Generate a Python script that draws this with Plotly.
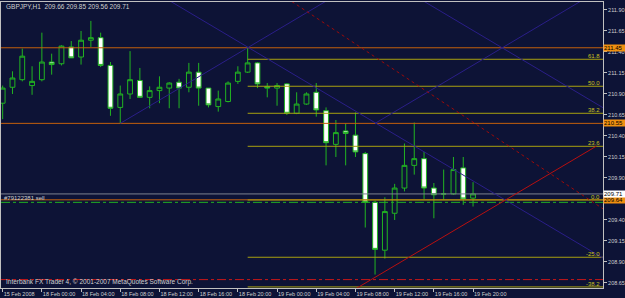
import plotly.graph_objects as go

# ---------------- data ----------------
bars = list(range(49))
opens = [210.79, 210.98, 211.07, 211.00, 211.07, 211.28, 211.26, 211.46, 211.34, 211.54,
         211.57, 211.24, 210.74, 210.90, 211.06, 210.86, 210.94, 210.97, 211.04, 210.98,
         211.16, 210.97, 210.75, 210.81, 211.05, 211.16, 211.27, 210.99, 210.97, 211.02,
         210.67, 210.78, 210.92, 210.70, 210.30, 210.46, 210.41, 210.19, 209.61, 209.04,
         209.48, 209.78, 210.05, 210.13, 209.78, 209.71, 209.71, 210.02, 209.66]
highs = [211.00, 211.17, 211.44, 211.23, 211.63, 211.38, 211.48, 211.53, 211.65, 211.77,
         211.63, 211.28, 211.00, 211.41, 211.21, 210.99, 211.11, 211.04, 211.08, 211.27,
         211.27, 210.97, 210.94, 211.05, 211.23, 211.45, 211.28, 211.03, 211.03, 211.03,
         210.92, 210.92, 211.03, 210.74, 210.59, 210.55, 210.68, 210.21, 209.63, 209.67,
         209.83, 210.31, 210.56, 210.21, 209.84, 210.00, 210.15, 210.15, 209.85]
lows = [210.60, 210.90, 211.05, 210.89, 211.05, 211.13, 211.24, 211.33, 211.25, 211.46,
        211.22, 210.64, 210.55, 210.84, 210.86, 210.73, 210.79, 210.73, 210.73, 210.92,
        210.76, 210.74, 210.69, 210.80, 211.02, 211.15, 210.97, 210.86, 210.76, 210.65,
        210.66, 210.77, 210.63, 210.05, 210.15, 210.05, 210.15, 209.31, 208.75, 208.94,
        209.40, 209.74, 209.94, 209.65, 209.42, 209.64, 209.70, 209.58, 209.56]
closes = [210.97, 211.09, 211.35, 211.05, 211.28, 211.25, 211.47, 211.33, 211.54, 211.57,
          211.24, 210.73, 210.90, 211.07, 210.86, 210.94, 210.98, 211.03, 210.97, 211.16,
          210.97, 210.77, 210.84, 211.03, 211.16, 211.27, 211.02, 210.97, 211.00, 210.67,
          210.78, 210.90, 210.71, 210.32, 210.44, 210.43, 210.21, 209.61, 209.05, 209.50,
          209.78, 210.05, 210.13, 209.78, 209.70, 209.71, 210.00, 209.65, 209.71]

time_tick_bars = [0, 4, 8, 12, 16, 20, 24, 28, 32, 36, 40, 44, 48]
time_tick_labels = ["15 Feb 2008", "18 Feb 00:00", "18 Feb 04:00", "18 Feb 08:00",
                    "18 Feb 12:00", "18 Feb 16:00", "18 Feb 20:00", "19 Feb 00:00",
                    "19 Feb 04:00", "19 Feb 08:00", "19 Feb 12:00", "19 Feb 16:00",
                    "19 Feb 20:00"]
price_ticks = [211.90, 211.65, 211.40, 211.15, 210.90, 210.65, 210.40, 210.15,
               209.90, 209.40, 209.15, 208.90, 208.65]

orange_levels = [211.45, 210.55, 209.64]
bid_price = 209.71
order_price = 209.61
stop_price = 208.69

fib_start_bar = 25
fib_labels = ["61.8", "50.0", "38.2", "23.6", "0.0", "-25.0", "-38.2"]
fib_prices = [211.313, 210.992, 210.670, 210.277, 209.638, 208.956, 208.603]

# diagonal lines: (bar, price) end points
violet_lines = [
    ([16.6, 61.5], [212.04, 208.93]),
    ([12.0, 33.5], [210.55, 212.04]),
    ([42.6, 61.5], [212.03, 210.72]),
    ([38.0, 59.5], [210.55, 212.04]),
]
red_dotted_line = ([29.0, 61.3], [212.04, 209.53])
red_trend_line = ([35.0, 60.6], [208.51, 210.28])

title_text = "GBPJPY,H1  209.66 209.85 209.56 209.71"
copyright_text = "Interbank FX Trader 4, \u00a9 2001-2007 MetaQuotes Software Corp."
order_text = "#79122381 sell"

# ---------------- styling ----------------
BG = "#0d1336"
GREY = "#c0c0c0"
CANDLE = "#22b422"
ORANGE = "#c4600c"
FIB = "#a8a010"
FONT = "Liberation Sans"

X_RANGE = [-0.17, 61.26]
Y_RANGE = [208.59, 211.995]

fig = go.Figure()

# full-width horizontal lines
for lv in orange_levels:
    fig.add_trace(go.Scatter(x=X_RANGE, y=[lv, lv], mode="lines",
                             line=dict(color=ORANGE, width=1), hoverinfo="skip"))
fig.add_trace(go.Scatter(x=X_RANGE, y=[bid_price, bid_price], mode="lines",
                         line=dict(color="#7d8290", width=1), hoverinfo="skip"))
fig.add_trace(go.Scatter(x=X_RANGE, y=[order_price, order_price], mode="lines",
                         line=dict(color="#22b022", width=1, dash="dashdot"), hoverinfo="skip"))
fig.add_trace(go.Scatter(x=X_RANGE, y=[stop_price, stop_price], mode="lines",
                         line=dict(color="#c81818", width=1, dash="dashdot"), hoverinfo="skip"))

# fibonacci levels
for fp in fib_prices:
    fig.add_trace(go.Scatter(x=[fib_start_bar, X_RANGE[1]], y=[fp, fp], mode="lines",
                             line=dict(color=FIB, width=1), hoverinfo="skip"))

# diagonal lines
for xs, ys in violet_lines:
    fig.add_trace(go.Scatter(x=xs, y=ys, mode="lines",
                             line=dict(color="#2a1e88", width=1), hoverinfo="skip"))
fig.add_trace(go.Scatter(x=red_dotted_line[0], y=red_dotted_line[1], mode="lines",
                         line=dict(color="#9a0a0a", width=1, dash="dot"), hoverinfo="skip"))
fig.add_trace(go.Scatter(x=red_trend_line[0], y=red_trend_line[1], mode="lines",
                         line=dict(color="#b81010", width=1), hoverinfo="skip"))

# candles
fig.add_trace(go.Candlestick(
    x=bars, open=opens, high=highs, low=lows, close=closes,
    increasing=dict(line=dict(color=CANDLE, width=1), fillcolor=BG),
    decreasing=dict(line=dict(color=CANDLE, width=1), fillcolor="#ffffff"),
    whiskerwidth=0, hoverinfo="skip"))

annotations = []
# price boxes on the right axis
for lv in orange_levels:
    annotations.append(dict(xref="paper", x=1.0, xanchor="left", yref="y", y=lv,
                            yanchor="middle", text=f"{lv:.2f}", showarrow=False,
                            bgcolor="#f09010", font=dict(family=FONT, size=6, color="#000000"),
                            borderpad=0, width=21, height=6, align="left"))
annotations.append(dict(xref="paper", x=1.0, xanchor="left", yref="y", y=bid_price,
                        yanchor="middle", text=f"{bid_price:.2f}", showarrow=False,
                        bgcolor="#ffffff", font=dict(family=FONT, size=6, color="#000000"),
                        borderpad=0, width=21, height=6, align="left"))
# fib labels
for lab, fp in zip(fib_labels, fib_prices):
    annotations.append(dict(xref="paper", x=0.997, xanchor="right", yref="y", y=fp,
                            yanchor="bottom", yshift=-1, text=lab, showarrow=False,
                            font=dict(family=FONT, size=6, color="#c8c020"), borderpad=0))
# texts
annotations.append(dict(xref="paper", x=0.005, xanchor="left", yref="paper", y=0.986,
                        yanchor="middle", text=title_text, showarrow=False,
                        font=dict(family=FONT, size=6.5, color="#d0d0d0")))
annotations.append(dict(xref="paper", x=0.005, xanchor="left", yref="paper", y=0.021,
                        yanchor="middle", text=copyright_text, showarrow=False,
                        font=dict(family=FONT, size=6.5, color="#d0d0d0")))
annotations.append(dict(xref="paper", x=0.004, xanchor="left", yref="y", y=order_price,
                        yanchor="bottom", yshift=0, text=order_text, showarrow=False,
                        font=dict(family=FONT, size=6, color="#d0d0d0"), borderpad=0))

fig.update_layout(
    width=625, height=298,
    margin=dict(l=1, r=22, t=2, b=10, autoexpand=False),
    paper_bgcolor=BG, plot_bgcolor=BG,
    showlegend=False, hovermode=False,
    annotations=annotations,
    xaxis=dict(range=X_RANGE, tickvals=time_tick_bars, ticktext=time_tick_labels,
               ticks="outside", ticklen=3, tickcolor=GREY, showline=True, linecolor=GREY,
               linewidth=1, mirror=True, showgrid=False, zeroline=False,
               ticklabelposition="outside right", tickangle=0, automargin=False,
               tickfont=dict(family=FONT, size=5.5, color="#d0d0d0"),
               rangeslider=dict(visible=False)),
    yaxis=dict(range=Y_RANGE, side="right", tickvals=price_ticks,
               ticktext=[f"{v:.2f}" for v in price_ticks], automargin=False,
               ticks="outside", ticklen=3, tickcolor=GREY, showline=True, linecolor=GREY,
               linewidth=1, mirror=True, showgrid=False, zeroline=False,
               tickfont=dict(family=FONT, size=5.5, color="#d0d0d0")),
)

fig.write_html("out.html")
